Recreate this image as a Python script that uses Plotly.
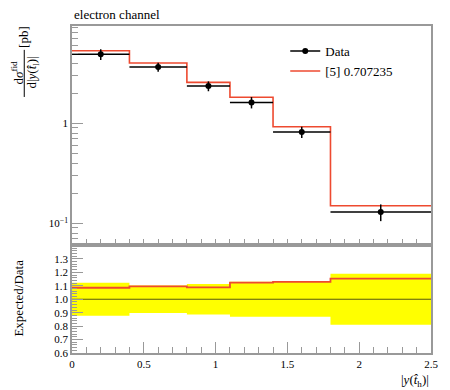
import plotly.graph_objects as go

# ---- data ----
bin_edges = [0.0, 0.4, 0.8, 1.1, 1.4, 1.8, 2.5]
data_vals = [4.90, 3.66, 2.36, 1.62, 0.819, 0.130]
data_relerr = [0.123, 0.103, 0.113, 0.13, 0.13, 0.19]
pred_vals = [5.32, 4.01, 2.57, 1.82, 0.925, 0.150]
legend_data = "Data"
legend_pred = "[5] 0.707235"
x_ticks = [0, 0.5, 1, 1.5, 2, 2.5]
x_ticktext = ["0", "0.5", "1", "1.5", "2", "2.5"]
ratio_ticks = [0.6, 0.7, 0.8, 0.9, 1.0, 1.1, 1.2, 1.3]

centers = [(a + b) / 2 for a, b in zip(bin_edges[:-1], bin_edges[1:])]
halfw = [(b - a) / 2 for a, b in zip(bin_edges[:-1], bin_edges[1:])]
data_err = [v * e for v, e in zip(data_vals, data_relerr)]
ratio = [p / d for p, d in zip(pred_vals, data_vals)]

RED = "#EE4a30"
FONT = "Liberation Serif"
FRAME = "#999999"

fig = go.Figure()

# ratio band (yellow)
fig.add_trace(go.Scatter(x=bin_edges, y=[1 + e for e in data_relerr] + [1 + data_relerr[-1]],
                         mode="lines", line=dict(width=0, shape="hv", color="#ffff00"),
                         xaxis="x2", yaxis="y2", showlegend=False, hoverinfo="skip"))
fig.add_trace(go.Scatter(x=bin_edges, y=[1 - e for e in data_relerr] + [1 - data_relerr[-1]],
                         mode="lines", line=dict(width=0, shape="hv", color="#ffff00"),
                         fill="tonexty", fillcolor="#ffff00",
                         xaxis="x2", yaxis="y2", showlegend=False, hoverinfo="skip"))
fig.add_trace(go.Scatter(x=[bin_edges[0], bin_edges[-1]], y=[1, 1], mode="lines",
                         line=dict(color="rgba(60,60,20,0.85)", width=1.2),
                         xaxis="x2", yaxis="y2", showlegend=False, hoverinfo="skip"))
fig.add_trace(go.Scatter(x=bin_edges, y=ratio + [ratio[-1]], mode="lines",
                         line=dict(color=RED, width=1.8, shape="hv"),
                         xaxis="x2", yaxis="y2", showlegend=False, hoverinfo="skip"))

# main panel
fig.add_trace(go.Scatter(x=bin_edges, y=pred_vals + [pred_vals[-1]], mode="lines",
                         line=dict(color=RED, width=1.6, shape="hv"),
                         name=legend_pred, showlegend=False))
fig.add_trace(go.Scatter(x=centers, y=data_vals, mode="markers",
                         marker=dict(color="black", size=6),
                         error_x=dict(type="data", array=halfw, width=0, thickness=1.5, color="black"),
                         error_y=dict(type="data", array=data_err, width=0, thickness=1.5, color="black"),
                         showlegend=False))
# legend entries
fig.add_trace(go.Scatter(x=[None], y=[None], mode="lines+markers", name=legend_data,
                         line=dict(color="black", width=1.5), marker=dict(color="black", size=6)))
fig.add_trace(go.Scatter(x=[None], y=[None], mode="lines", name=legend_pred,
                         line=dict(color=RED, width=1.6)))

axis_common = dict(showline=True, linecolor=FRAME, linewidth=1.5, mirror=True,
                   ticks="inside", tickcolor=FRAME, showgrid=False, zeroline=False,
                   tickfont=dict(family=FONT, size=11, color="black"))

minor_x = [round(0.1 * i, 2) for i in range(26)]

fig.update_layout(
    width=442, height=382,
    margin=dict(l=64, r=16, t=18, b=37),
    paper_bgcolor="white", plot_bgcolor="white",
    font=dict(family=FONT, size=12, color="black"),
    xaxis=dict(domain=[0, 1], range=[0, 2.5], anchor="y", tickvals=x_ticks,
               ticktext=[""] * len(x_ticks), ticklen=11,
               minor=dict(tickvals=minor_x, ticklen=6, ticks="inside", tickcolor=FRAME),
               matches="x2", **axis_common),
    yaxis=dict(domain=[0.330, 1], type="log", range=[-1.217, 0.973], anchor="x",
               tickvals=[0.1, 1], ticktext=["10<sup>\u22121</sup>", "1"], ticklen=11,
               minor=dict(tickvals=[0.07, 0.08, 0.09, 0.2, 0.3, 0.4, 0.5, 0.6, 0.7, 0.8, 0.9,
                                    2, 3, 4, 5, 6, 7, 8, 9],
                          ticklen=6, ticks="inside", tickcolor=FRAME),
               **axis_common),
    xaxis2=dict(domain=[0, 1], range=[0, 2.5], anchor="y2", tickvals=x_ticks,
                ticktext=x_ticktext, ticklen=11,
                minor=dict(tickvals=minor_x, ticklen=6, ticks="inside", tickcolor=FRAME),
                **axis_common),
    yaxis2=dict(domain=[0, 0.330], range=[0.6, 1.403], anchor="x2",
                tickvals=ratio_ticks, ticktext=["%.1f" % v for v in ratio_ticks], ticklen=11,
                minor=dict(dtick=0.02, ticklen=5, ticks="inside", tickcolor=FRAME),
                **axis_common),
    legend=dict(x=0.594, y=0.969, xanchor="left", yanchor="top", traceorder="normal",
                bgcolor="rgba(0,0,0,0)", font=dict(family=FONT, size=13),
                tracegroupgap=0, itemwidth=30),
    showlegend=True,
)

ann = [
    dict(text="electron channel", x=0, y=1.035, xref="paper", yref="paper",
         xanchor="left", yanchor="middle", showarrow=False, font=dict(family=FONT, size=13)),
    dict(text="d<i>σ</i><sup>fid</sup>", x=-0.152, y=0.856, xref="paper", yref="paper",
         xanchor="center", yanchor="middle", textangle=-90, showarrow=False,
         font=dict(family=FONT, size=13)),
    dict(text="d|<i>y</i>(<i>t̂</i><sub>l</sub>)|", x=-0.110, y=0.856, xref="paper", yref="paper",
         xanchor="center", yanchor="middle", textangle=-90, showarrow=False,
         font=dict(family=FONT, size=13)),
    dict(text="[pb]", x=-0.137, y=0.966, xref="paper", yref="paper",
         xanchor="center", yanchor="middle", textangle=-90, showarrow=False,
         font=dict(family=FONT, size=13)),
    dict(text="Expected/Data", x=-0.149, y=0.168, xref="paper", yref="paper",
         xanchor="center", yanchor="middle", textangle=-90, showarrow=False,
         font=dict(family=FONT, size=13)),
    dict(text="|<i>y</i>(<i>t̂</i><sub>h</sub>)|", x=1.0, y=-0.083, xref="paper", yref="paper",
         xanchor="right", yanchor="middle", showarrow=False,
         font=dict(family=FONT, size=13)),
]
fig.update_layout(annotations=ann)
fig.add_shape(type="line", xref="paper", yref="paper", x0=-0.133, x1=-0.133,
              y0=0.783, y1=0.927, line=dict(color="black", width=1))

fig.write_html("out.html")
